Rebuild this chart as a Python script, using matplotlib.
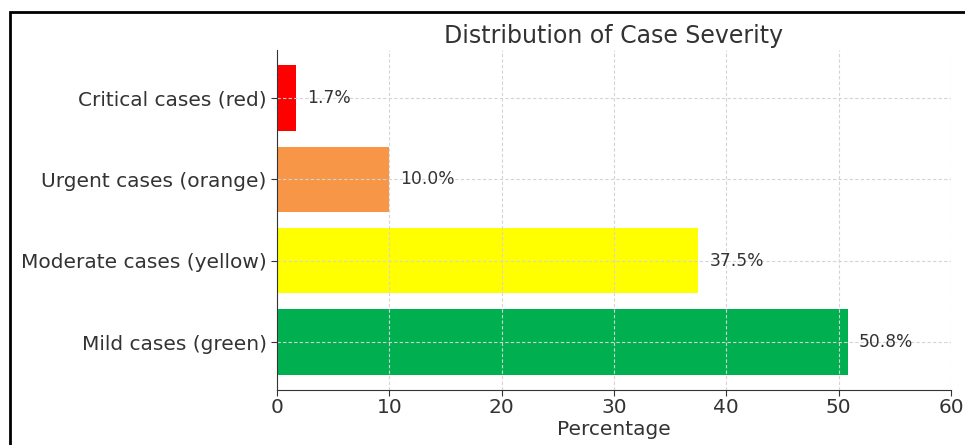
import matplotlib
matplotlib.use("Agg")
import matplotlib.pyplot as plt
from matplotlib.patches import Rectangle

categories = ["Mild cases (green)", "Moderate cases (yellow)",
              "Urgent cases (orange)", "Critical cases (red)"]
percentages = [50.8, 37.5, 10.0, 1.7]
colors = ["#00B050", "#FFFF00", "#F79646", "#FF0000"]
xticks = [0, 10, 20, 30, 40, 50, 60]

text_color = "#333333"

fig = plt.figure(figsize=(9.65, 4.45), dpi=100)
ax = fig.add_axes([277 / 965, 1 - 390 / 445, (951 - 277) / 965, (390 - 50) / 445])

bars = ax.barh(categories, percentages, color=colors, height=0.8, zorder=1)
ax.set_axisbelow(False)
ax.grid(True, linestyle=(0, (3, 2)), color="#d4d4d4", linewidth=0.8, zorder=2)

for bar, val in zip(bars, percentages):
    ax.text(val + 1, bar.get_y() + bar.get_height() / 2, f"{val:.1f}%",
            va="center", ha="left", fontsize=12.3, color=text_color, zorder=3)

ax.set_xlim(0, 60)
ax.set_xticks(xticks)
ax.tick_params(axis="both", labelsize=14.5, labelcolor=text_color, color=text_color,
               length=4)
ax.tick_params(axis="x", pad=2)
ax.set_xlabel("Percentage", fontsize=14.5, color=text_color, labelpad=2)
ax.set_title("Distribution of Case Severity", fontsize=17, color=text_color, pad=5)

for side in ("top", "right"):
    ax.spines[side].set_visible(False)
for side in ("left", "bottom"):
    ax.spines[side].set_color(text_color)
    ax.spines[side].set_zorder(5)

# outer frame around the figure
fig.patches.append(Rectangle((10 / 965, -0.1), 1.2, 1 - 12 / 445 + 0.1,
                             transform=fig.transFigure, fill=False,
                             edgecolor="black", linewidth=2, zorder=10))

fig.savefig("out.png", dpi=100)
